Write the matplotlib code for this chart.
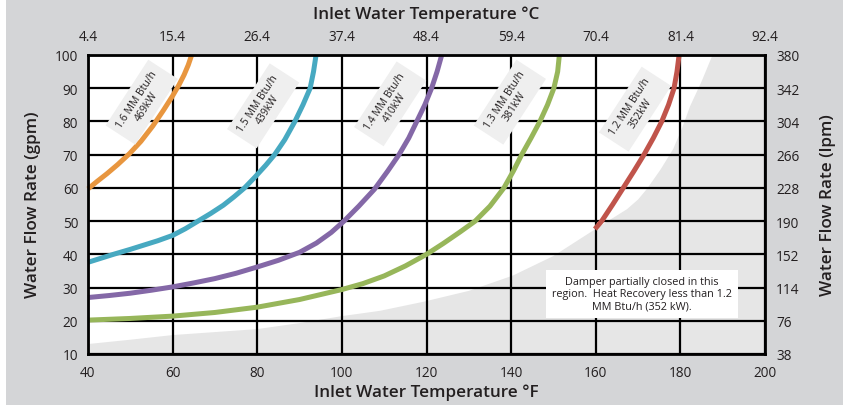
import numpy as np
import matplotlib
matplotlib.use("Agg")
import matplotlib.pyplot as plt
from matplotlib.patches import Rectangle

plt.rcParams['font.family'] = ['Open Sans', 'DejaVu Sans']

# 各曲线数据 (入口水温 °F, 流量 gpm)
orange_f = [40, 42, 44.5, 47, 49.8, 52.5, 55.3, 57.8, 60, 61.5, 62.7, 63.7, 64.5]
orange_g = [59.7, 61.8, 64.3, 67, 70.3, 74, 78.6, 83.3, 87.7, 91, 94, 97, 100]

cyan_f = [40, 43, 46, 50, 53, 56.5, 60, 63, 66, 69, 72, 74.5, 77, 79.5, 82, 84.1, 86.5, 88.9, 90.8, 92.5, 93.3, 93.9]
cyan_g = [37.6, 38.8, 40, 41.5, 42.7, 44.1, 45.7, 47.7, 50, 52.3, 54.8, 57.3, 60, 63.3, 66.8, 70, 74.5, 80, 85, 90, 95, 100]

purple_f = [40, 45, 50, 55, 60, 65, 70, 75, 80, 85, 90, 94, 97.5, 100.5, 104, 107.7, 110.8, 113.5, 115.8, 117.7, 119.6, 121.2, 122.5, 123.6]
purple_g = [27, 27.6, 28.3, 29.2, 30.2, 31.4, 32.7, 34.3, 36.2, 38.2, 40.6, 43.4, 46.6, 50, 54.5, 59.6, 65, 70, 75, 80, 85, 90, 95, 100]

green_f = [40, 50, 60, 70, 80, 90, 100, 105, 110, 115, 120, 124, 128, 131.5, 135, 138.3, 140.5, 142.5, 144.7, 146.8, 148.6, 150.1, 151, 151.4]
green_g = [20.2, 20.7, 21.4, 22.5, 24.1, 26.4, 29.4, 31.2, 33.5, 36.5, 40, 43.3, 46.8, 50, 54.5, 60, 65, 70, 75, 80, 85, 90, 95, 100]

red_f = [159.8, 161.4, 164, 166.5, 169, 171.4, 173.6, 175.6, 177.2, 178.5, 179.2, 179.7]
red_g = [47.6, 50, 55, 60, 65, 70, 75, 80, 85, 90, 95, 100]

# 阴影区域边界
shade_f = [40, 50, 60, 70, 80, 90, 100, 109, 119.2, 130, 140.4, 150, 159.3, 163.5, 167.4, 170, 172.1, 175.3, 178.3, 180.4, 182.3, 185, 187.6]
shade_g = [13, 14.3, 15.7, 16.6, 17.5, 19.3, 21.4, 23, 25.7, 29, 33.6, 39.5, 47.1, 50.5, 53.6, 56.5, 59.7, 65.5, 71.7, 78, 84.6, 92, 100]

curve_labels = ["1.6 MM Btu/h\n469kW", "1.5 MM Btu/h\n439kW", "1.4 MM Btu/h\n410kW",
                "1.3 MM Btu/h\n381kW", "1.2 MM Btu/h\n352kW"]
label_f = [52.7, 81.4, 111.4, 139.7, 169.3]
label_g = [85.8, 84.7, 85.3, 85.8, 83.7]

x_ticks = [40, 60, 80, 100, 120, 140, 160, 180, 200]
c_labels = ["4.4", "15.4", "26.4", "37.4", "48.4", "59.4", "70.4", "81.4", "92.4"]
y_ticks = [10, 20, 30, 40, 50, 60, 70, 80, 90, 100]
lpm_labels = ["38", "76", "114", "152", "190", "228", "266", "304", "342", "380"]

note = "Damper partially closed in this\nregion.  Heat Recovery less than 1.2\nMM Btu/h (352 kW)."

W, H = 843, 406
bg = '#d4d5d7'
txt = '#231f20'

fig = plt.figure(figsize=(W / 100, H / 100), dpi=100, facecolor=bg)
fig.patches.append(Rectangle((0, 0), 6 / W, 1, transform=fig.transFigure,
                             facecolor='white', edgecolor='none', zorder=0))

L, R, T, B = 88, 765, 56, 355
ax = fig.add_axes([L / W, 1 - B / H, (R - L) / W, (B - T) / H])
ax.set_facecolor('white')
ax.set_xlim(40, 200)
ax.set_ylim(10, 100)

# 阴影区
poly_f = shade_f + [200, 200, 40]
poly_g = shade_g + [100, 10, 10]
ax.fill(poly_f, poly_g, color='#e6e6e6', lw=0, zorder=1)

ax.set_xticks(x_ticks)
ax.set_yticks(y_ticks)
ax.grid(True, color='black', lw=1.6, zorder=2)
ax.set_axisbelow(False)
for s in ax.spines.values():
    s.set_linewidth(2)
    s.set_zorder(6)
ax.tick_params(length=0, labelsize=9.8, colors=txt)
ax.tick_params(axis='x', pad=8)
ax.tick_params(axis='y', pad=7)

cols = ['#e8963f', '#47a9c1', '#8468a7', '#97b65a', '#c0544b']
series = [(orange_f, orange_g), (cyan_f, cyan_g), (purple_f, purple_g),
          (green_f, green_g), (red_f, red_g)]
for (f, g), c in zip(series, cols):
    ax.plot(f, g, color=c, lw=3.6, solid_capstyle='butt', solid_joinstyle='round',
            zorder=4, clip_on=False)

for lab, fx, gy in zip(curve_labels, label_f, label_g):
    ax.text(fx, gy, lab, rotation=57, ha='center', va='center', fontsize=7.5,
            color=txt, linespacing=1.1, rotation_mode='anchor', zorder=5,
            bbox=dict(boxstyle='square,pad=0.6', fc='#efefef', ec='none'))

ax.text(170.9, 28.1, note, ha='center', va='center', fontsize=7.8, color=txt,
        linespacing=1.2, zorder=5,
        bbox=dict(boxstyle='square,pad=0.55', fc='white', ec='none'))

# 上方 °C 轴
axt = ax.twiny()
axt.set_xlim(ax.get_xlim())
axt.set_xticks(x_ticks)
axt.set_xticklabels(c_labels)
axt.tick_params(length=0, labelsize=9.8, colors=txt, pad=8)
for s in axt.spines.values():
    s.set_visible(False)

# 右侧 lpm 轴
axr = ax.twinx()
axr.set_ylim(ax.get_ylim())
axr.set_yticks(y_ticks)
axr.set_yticklabels(lpm_labels)
axr.tick_params(length=0, labelsize=9.8, colors=txt, pad=8)
for s in axr.spines.values():
    s.set_visible(False)

fig.text(426 / W, 1 - 393 / H, "Inlet Water Temperature °F", ha='center', va='center',
         fontsize=12.3, fontweight='semibold', color=txt)
fig.text(426 / W, 1 - 15 / H, "Inlet Water Temperature °C", ha='center', va='center',
         fontsize=12.3, fontweight='semibold', color=txt)
fig.text(33 / W, 1 - 205 / H, "Water Flow Rate (gpm)", ha='center', va='center',
         rotation=90, fontsize=12.3, fontweight='semibold', color=txt)
fig.text(828 / W, 1 - 205 / H, "Water Flow Rate (lpm)", ha='center', va='center',
         rotation=90, fontsize=12.3, fontweight='semibold', color=txt)

fig.savefig("out.png", dpi=100, facecolor=bg)
